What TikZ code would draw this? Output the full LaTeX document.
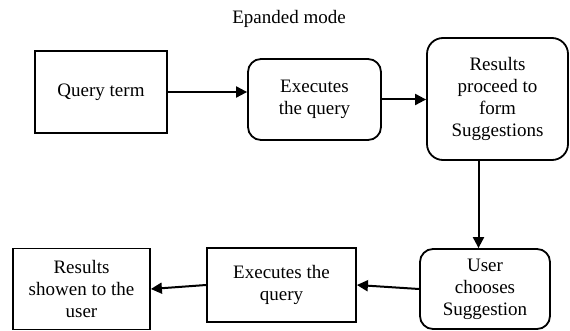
\documentclass[tikz,border=0pt]{standalone}
\usepackage{fontspec}
\setmainfont{Liberation Serif}
\usetikzlibrary{arrows.meta}
\tikzset{
  box/.style={draw=black, line width=1.8pt, inner sep=0pt, align=center,
    font=\fontsize{19}{22}\selectfont},
  rbox/.style={box, rounded corners=13pt},
  flow/.style={line width=2pt, -{Triangle[length=11pt,width=11pt]}},
}
\begin{document}
\begin{tikzpicture}[x=1pt,y=-1pt]
\useasboundingbox (0,0) rectangle (570,331);

\node[font=\fontsize{19}{22}\selectfont] (title) at (289,19) {Epanded mode};

% upper row
\node[box, minimum width=132pt, minimum height=82pt] (q) at (101,92) {Query term};
\node[rbox, minimum width=133pt, minimum height=81pt] (e1) at (314.5,99.5) {Executes\\the query};
\node[rbox, rounded corners=16pt, minimum width=141pt, minimum height=122pt] (r) at (497.5,99) {Results\\proceed to\\form\\Suggestions};

% lower row
\node[rbox, minimum width=130pt, minimum height=80pt] (u) at (485,289) {User\\chooses\\Suggestion};
\node[box, minimum width=149pt, minimum height=74pt] (e2) at (281.5,285) {Executes the\\query};
\node[box, minimum width=137pt, minimum height=81pt] (rs) at (81.5,289) {Results\\showen to the\\user};

% connectors
\draw[flow] (q.east) -- (q.east -| e1.west);
\draw[flow] (e1.east) -- (e1.east -| r.west);
\coordinate (rd) at ([xshift=-19pt]r.south);
\draw[flow] (rd) -- (rd |- u.north);
\draw[flow] (u.west) -- (e2.east);
\draw[flow] (e2.west) -- (rs.east);
\end{tikzpicture}
\end{document}
